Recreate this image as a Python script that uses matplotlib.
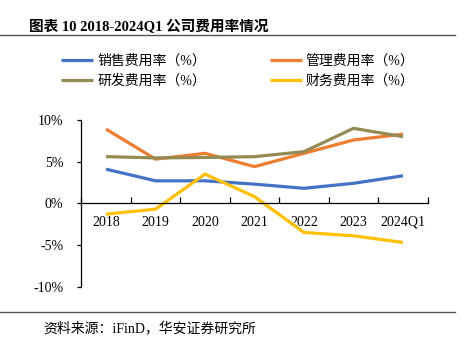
import matplotlib
matplotlib.use('Agg')
import matplotlib.pyplot as plt
from matplotlib.lines import Line2D
from matplotlib.ticker import FixedLocator, NullFormatter, FuncFormatter

# Expense ratios by period (%)
periods = ['2018', '2019', '2020', '2021', '2022', '2023', '2024Q1']
sales_ratio = [4.1, 2.7, 2.7, 2.3, 1.8, 2.4, 3.3]
admin_ratio = [8.9, 5.3, 6.0, 4.4, 6.0, 7.6, 8.3]
rnd_ratio = [5.6, 5.45, 5.5, 5.6, 6.2, 9.0, 8.0]
fin_ratio = [-1.3, -0.7, 3.5, 0.8, -3.5, -3.9, -4.7]

labels = ['销售费用率（%）', '管理费用率（%）', '研发费用率（%）', '财务费用率（%）']
colors = ['#4472C4', '#ED7D31', '#948A54', '#FFC000']
series = [sales_ratio, admin_ratio, rnd_ratio, fin_ratio]

FONT = ['Liberation Serif', 'Noto Sans CJK SC']
plt.rcParams['font.family'] = FONT

fig = plt.figure(figsize=(4.69, 3.38), dpi=100)
ax = fig.add_axes([0.1734, 0.152, 0.912 - 0.1734, 0.493])

x = list(range(len(periods)))
lines = []
for vals, col, lab in zip(series, colors, labels):
    ln, = ax.plot(x, vals, color=col, lw=2.3, solid_capstyle='butt', label=lab)
    lines.append(ln)

ax.set_xlim(-0.5, len(periods) - 0.5)
ax.set_ylim(-10, 10)

# spines: y axis on the left, x axis running through zero
for s in ['top', 'right']:
    ax.spines[s].set_visible(False)
ax.spines['bottom'].set_position(('data', 0))
ax.spines['bottom'].set_linewidth(0.9)
ax.spines['left'].set_linewidth(0.9)

ax.set_yticks([-10, -5, 0, 5, 10])
ax.yaxis.set_major_formatter(FuncFormatter(lambda v, p: f'{v:.0f}%'))
ax.tick_params(axis='y', direction='out', length=3, width=0.9, pad=10, labelsize=10)

# category boundaries get tick marks, centres get the labels
ax.xaxis.set_major_locator(FixedLocator([i - 0.5 for i in range(len(periods) + 1)]))
ax.xaxis.set_major_formatter(NullFormatter())
ax.xaxis.set_minor_locator(FixedLocator(x))
ax.set_xticklabels(periods, minor=True)
ax.tick_params(axis='x', which='major', direction='in', length=4, width=0.9)
ax.tick_params(axis='x', which='minor', length=0, pad=9, labelsize=10)

# legend: two columns
order = [0, 2, 1, 3]
fig.legend([lines[i] for i in order], [labels[i] for i in order],
           loc='upper left', bbox_to_anchor=(0.13, 0.838), ncol=2,
           frameon=False, fontsize=10, handlelength=2.3, handletextpad=0.3,
           columnspacing=4.6, labelspacing=0.45, borderpad=0, borderaxespad=0)

# title and rules
fig.text(0.062, 0.92, '图表 10 2018-2024Q1 公司费用率情况', fontsize=10.5,
         fontweight='bold', ha='left', va='center', family=FONT)
fig.add_artist(Line2D([0, 455 / 469], [1 - 35 / 338] * 2, color='#555555', lw=1.0))
fig.add_artist(Line2D([0, 455 / 469], [1 - 312 / 338] * 2, color='#555555', lw=1.0))
fig.text(0.092, 1 - 328 / 338, '资料来源：iFinD，华安证券研究所', fontsize=10,
         ha='left', va='center', family=FONT)

fig.savefig('out.png', dpi=100, facecolor='white')
